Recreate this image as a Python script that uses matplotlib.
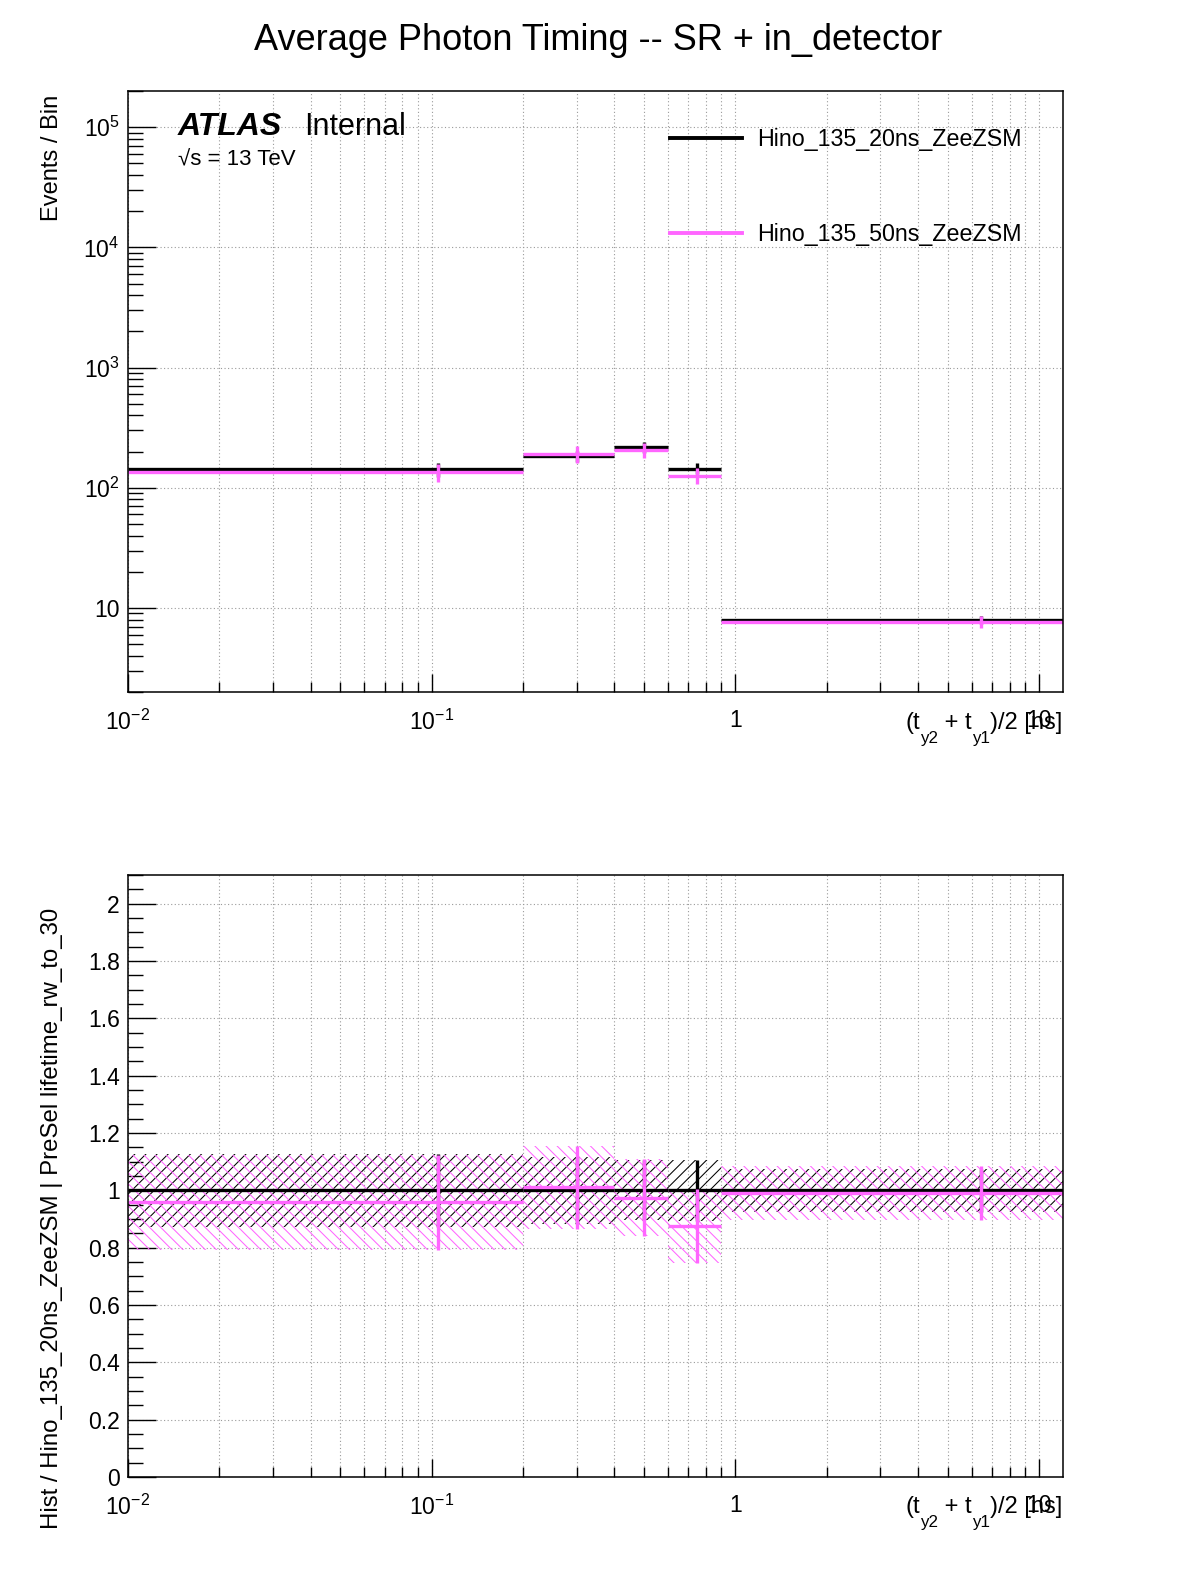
import numpy as np
import matplotlib
matplotlib.use("Agg")
import matplotlib.pyplot as plt
from matplotlib.ticker import FixedLocator, NullFormatter, LogLocator
from matplotlib.lines import Line2D

plt.rcParams['font.family'] = ['Liberation Sans', 'DejaVu Sans']
plt.rcParams['mathtext.fontset'] = 'custom'
plt.rcParams['mathtext.rm'] = 'Liberation Sans'
plt.rcParams['mathtext.it'] = 'Liberation Sans'
plt.rcParams['mathtext.bf'] = 'Liberation Sans:bold'
plt.rcParams['mathtext.sf'] = 'Liberation Sans'
plt.rcParams['hatch.linewidth'] = 0.75

# ---------------- data ----------------
bin_edges = [0.01, 0.2, 0.4, 0.6, 0.9, 12.0]

series_names = ["Hino_135_20ns_ZeeZSM", "Hino_135_50ns_ZeeZSM"]
series_colors = ["#000000", "#ff66ff"]

counts_20ns = [142, 184, 217, 144.5, 8.0]
errors_20ns = [19, 20, 22, 15.5, 0.6]
counts_50ns = [135, 191, 207, 125.7, 7.7]
errors_50ns = [24, 30, 29.5, 19, 0.9]

ratio_20ns = [1.0, 1.0, 1.0, 1.0, 1.0]
ratio_err_20ns = [0.128, 0.118, 0.105, 0.107, 0.075]
ratio_50ns = [0.958, 1.01, 0.975, 0.875, 0.99]
ratio_err_50ns = [0.165, 0.146, 0.134, 0.128, 0.094]

xtick_vals = [0.01, 0.1, 1, 10]
xtick_labels = [r"$10^{-2}$", r"$10^{-1}$", "1", "10"]
ytick_top_vals = [10, 100, 1000, 1e4, 1e5]
ytick_top_labels = ["10", r"$10^{2}$", r"$10^{3}$", r"$10^{4}$", r"$10^{5}$"]
ytick_bot_vals = [0, 0.2, 0.4, 0.6, 0.8, 1, 1.2, 1.4, 1.6, 1.8, 2]
ytick_bot_labels = ["0", "0.2", "0.4", "0.6", "0.8", "1", "1.2", "1.4", "1.6", "1.8", "2"]

title = "Average Photon Timing -- SR + in_detector"
xlabel_pieces = [("(t", False), ("y2", True), (" + t", False), ("y1", True), (")/2 [ns]", False)]
ylabel_top = "Events / Bin"
ylabel_bot = "Hist / Hino_135_20ns_ZeeZSM | PreSel lifetime_rw_to_30"

# ---------------- figure ----------------
W, H = 1196, 1572
fig = plt.figure(figsize=(W / 100, H / 100), dpi=100)

def px_axes(l, t, r, b):
    return fig.add_axes([l / W, 1 - b / H, (r - l) / W, (b - t) / H])

ax1 = px_axes(128, 91, 1063, 692)
ax2 = px_axes(128, 875, 1063, 1477)

edges = np.array(bin_edges)
lo, hi = edges[:-1], edges[1:]
centers = (lo + hi) / 2
xerr = [centers - lo, hi - centers]

grid_kw = dict(color='#9a9a9a', linestyle=(0, (1, 2.2)), linewidth=0.8)

for ax in (ax1, ax2):
    ax.set_xscale('log')
    ax.set_xlim(0.01, 12)
    ax.set_axisbelow(True)
    ax.set_xticks(xtick_vals, labels=xtick_labels)
    ax.xaxis.set_minor_locator(LogLocator(base=10, subs=np.arange(2, 10)))
    ax.xaxis.set_minor_formatter(NullFormatter())
    ax.grid(True, which='both', axis='x', **grid_kw)
    ax.grid(True, which='major', axis='y', **grid_kw)
    ax.tick_params(axis='x', which='major', direction='in', length=13, width=1.0,
                   labelsize=16.5, pad=12.5)
    ax.tick_params(axis='x', which='minor', direction='in', length=7, width=1.0)
    ax.tick_params(axis='y', which='major', direction='in', length=20, width=1.0,
                   labelsize=16.5, pad=6)
    ax.tick_params(axis='y', which='minor', direction='in', length=10.5, width=1.0)
    for s in ax.spines.values():
        s.set_linewidth(1.1)

# ---- top panel ----
ax1.set_yscale('log')
ax1.set_ylim(2, 2.0e5)
ax1.set_yticks(ytick_top_vals, labels=ytick_top_labels)
ax1.yaxis.set_minor_locator(LogLocator(base=10, subs=np.arange(2, 10)))
ax1.yaxis.set_minor_formatter(NullFormatter())

for vals, errs, col in [(counts_20ns, errors_20ns, series_colors[0]),
                        (counts_50ns, errors_50ns, series_colors[1])]:
    ax1.errorbar(centers, vals, xerr=xerr, yerr=errs, fmt='none', ecolor=col,
                 elinewidth=2.4, capsize=0)

handles = [Line2D([], [], color=c, lw=2.8) for c in series_colors]
ax1.legend(handles, series_names, loc='upper left', bbox_to_anchor=(0.5797, 0.9377),
           frameon=False, fontsize=16.75, handlelength=3.1, handletextpad=0.65,
           labelspacing=3.08, borderpad=0, borderaxespad=0)

fig.text(178 / W, 1 - 135 / H, "ATLAS", fontsize=23, fontweight='bold',
         fontstyle='italic', ha='left', va='baseline')
fig.text(304 / W, 1 - 135 / H, "Internal", fontsize=22, ha='left', va='baseline')
fig.text(178 / W, 1 - 165 / H, "\u221as = 13 TeV", fontsize=16, ha='left', va='baseline')

# ---- bottom panel ----
ax2.set_ylim(0, 2.1)
ax2.set_yticks(ytick_bot_vals, labels=ytick_bot_labels)
ax2.yaxis.set_minor_locator(FixedLocator(np.arange(0, 2.1001, 0.05)))

widths = np.diff(edges)
r20 = np.array(ratio_20ns); e20 = np.array(ratio_err_20ns)
r50 = np.array(ratio_50ns); e50 = np.array(ratio_err_50ns)
ax2.bar(lo, 2 * e20, width=widths, bottom=r20 - e20, align='edge', fill=False,
        hatch='///', edgecolor=series_colors[0], linewidth=0)
ax2.bar(lo, 2 * e50, width=widths, bottom=r50 - e50, align='edge', fill=False,
        hatch='\\\\\\', edgecolor=series_colors[1], linewidth=0)
ax2.errorbar(centers, r20, xerr=xerr, yerr=e20, fmt='none', ecolor=series_colors[0],
             elinewidth=2.4, capsize=0)
ax2.errorbar(centers, r50, xerr=xerr, yerr=e50, fmt='none', ecolor=series_colors[1],
             elinewidth=2.4, capsize=0)

# ---- texts ----
fig.text(0.5, 1 - 40 / H, title, fontsize=26, ha='center', va='center')
fig.text(52 / W, 1 - 95 / H, ylabel_top, fontsize=17, rotation=90, ha='center', va='top')
fig.text(52 / W, 1 - 908 / H, ylabel_bot, fontsize=17.3, rotation=90, ha='center', va='top')

renderer = fig.canvas.get_renderer()

def compound_label(x_right, baseline, size):
    texts = []
    x = 0.0
    for s, sub in xlabel_pieces:
        fs = size * 0.72 if sub else size
        y = baseline + (14 if sub else 0)
        t = fig.text(x / W, 1 - y / H, s, fontsize=fs, ha='left', va='baseline')
        bb = t.get_window_extent(renderer)
        texts.append((t, x, y))
        x += bb.width
    shift = x_right - x
    for t, x0, y in texts:
        t.set_position(((x0 + shift) / W, 1 - y / H))

compound_label(1062, 729, 17)
compound_label(1062, 1513, 17)

fig.savefig("out.png", dpi=100)
